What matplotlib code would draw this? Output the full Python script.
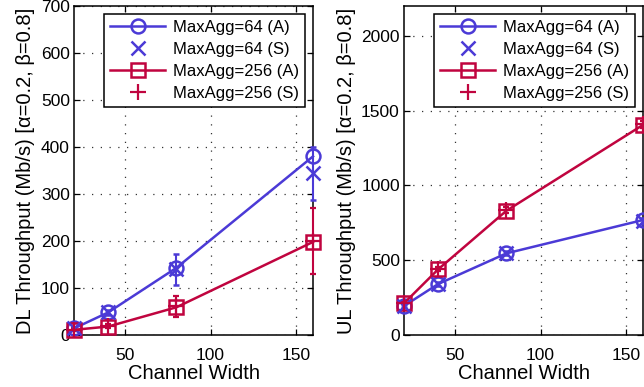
import matplotlib
matplotlib.use("Agg")
import matplotlib.pyplot as plt
import numpy as np

plt.rcParams['font.family'] = ['Liberation Sans', 'DejaVu Sans']

# channel widths (MHz)
width = [20, 40, 80, 160]

# downlink throughput, analysis (A) and simulation (S) with error bars
dl_64_a = [14, 48, 143, 380]
dl_64_s = [14, 48, 140, 344]
dl_64_err = [3, 6, 33, 57]
dl_256_a = [11, 18, 59, 198]
dl_256_s = [11, 19, 61, 200]
dl_256_err = [3, 5, 23, 70]

# uplink throughput
ul_64_a = [194, 341, 546, 769]
ul_64_s = [196, 343, 548, 765]
ul_64_err = [10, 12, 15, 20]
ul_256_a = [212, 439, 831, 1405]
ul_256_s = [214, 441, 835, 1408]
ul_256_err = [10, 14, 18, 22]

blue = "#4B3AD6"
red = "#C0043F"

fig = plt.figure(figsize=(6.44, 3.87), dpi=100)
W, H = 644, 387
ax1 = fig.add_axes([74 / W, (H - 335) / H, (313 - 74) / W, (335 - 6) / H])
ax2 = fig.add_axes([404 / W, (H - 335) / H, (643 - 404) / W, (335 - 6) / H])


def draw(ax, a64, s64, e64, a256, s256, e256, ylim, yticks, ylabel):
    l1, = ax.plot(width, a64, '-o', color=blue, lw=1.8, ms=10, mfc='none',
                  mew=1.8, clip_on=False, zorder=4)
    e1 = ax.errorbar(width, s64, yerr=e64, fmt='x', color=blue, ms=10, mew=1.8,
                     elinewidth=1.5, capsize=2, capthick=1.5,
                     clip_on=False, zorder=4)
    l2, = ax.plot(width, a256, '-s', color=red, lw=1.8, ms=10, mfc='none',
                  mew=1.8, clip_on=False, zorder=4)
    e2 = ax.errorbar(width, s256, yerr=e256, fmt='+', color=red, ms=12, mew=1.6,
                     elinewidth=1.5, capsize=2, capthick=1.5,
                     clip_on=False, zorder=4)
    for c in (e1, e2):
        for art in c[1] + c[2]:
            art.set_clip_on(False)
    ax.set_xlim(20, 160)
    ax.set_ylim(*ylim)
    ax.set_xticks([50, 100, 150])
    ax.set_yticks(yticks)
    ax.grid(True, linestyle=(0, (1, 6)), color='#333333', lw=0.9)
    ax.tick_params(direction='in', top=True, right=True, labelsize=12.5,
                   length=4, width=0.9, pad=3)
    ax.tick_params(axis='x', pad=9)
    for s in ax.spines.values():
        s.set_linewidth(1.1)
    ax.set_xlabel('Channel Width', fontsize=14.5, labelpad=1)
    ax.set_ylabel(ylabel, fontsize=14.5, labelpad=4)
    leg = ax.legend([l1, e1[0], l2, e2[0]],
                    ['MaxAgg=64 (A)', 'MaxAgg=64 (S)',
                     'MaxAgg=256 (A)', 'MaxAgg=256 (S)'],
                    loc='upper right', fontsize=12, handlelength=3.3,
                    handletextpad=0.45, borderpad=0.35, labelspacing=0.42,
                    fancybox=False, framealpha=1, edgecolor='black',
                    borderaxespad=0.5)
    leg.get_frame().set_linewidth(1.1)


draw(ax1, dl_64_a, dl_64_s, dl_64_err, dl_256_a, dl_256_s, dl_256_err,
     (0, 700), np.arange(0, 701, 100),
     'DL Throughput (Mb/s) [\u03b1=0.2, \u03b2=0.8]')
draw(ax2, ul_64_a, ul_64_s, ul_64_err, ul_256_a, ul_256_s, ul_256_err,
     (0, 2200), [0, 500, 1000, 1500, 2000],
     'UL Throughput (Mb/s) [\u03b1=0.2, \u03b2=0.8]')

fig.savefig('out.png', dpi=100)
